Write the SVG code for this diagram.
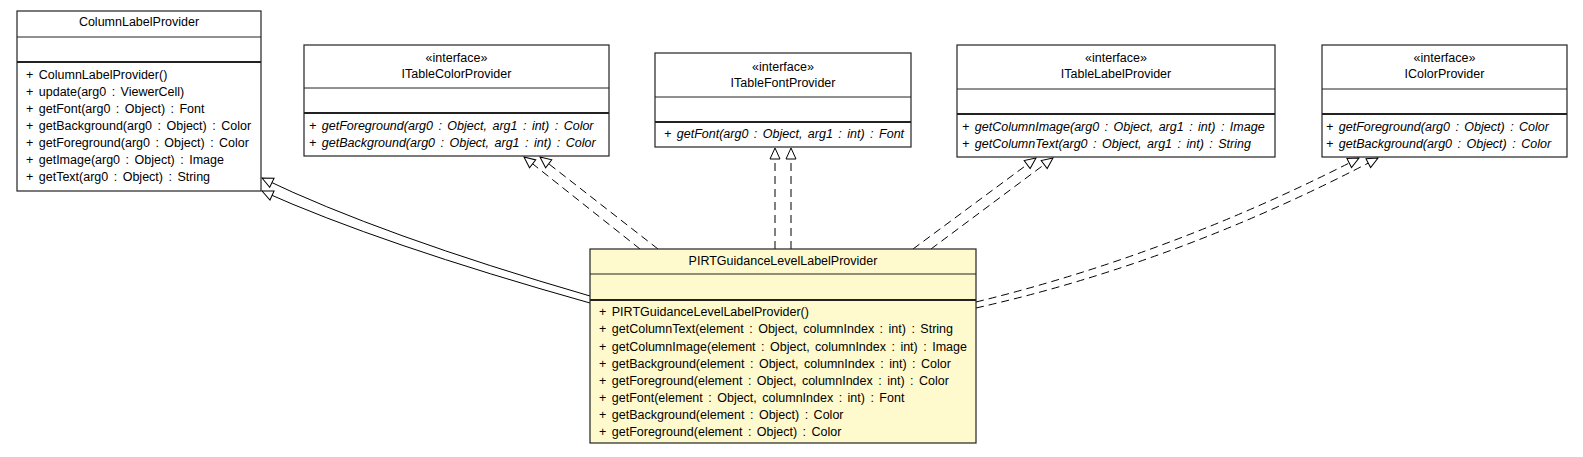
<svg xmlns="http://www.w3.org/2000/svg" width="1583" height="457" viewBox="0 0 1583 457">
<defs>
<style>
text{font-family:"Liberation Sans",Arial,sans-serif;font-size:12.5px;fill:#000}
.m{word-spacing:2px}
.c{text-anchor:middle}
.i{font-style:italic}
.box{fill:#fff;stroke:#222;stroke-width:1.2}
.hl{fill:#FFFACD}
.d1{stroke:#222;stroke-width:1}
.d2{stroke:#222;stroke-width:2}
.gen{fill:none;stroke:#000;stroke-width:1;marker-end:url(#tri)}
.real{fill:none;stroke:#000;stroke-width:1;stroke-dasharray:8,5;marker-end:url(#tri)}
</style>
<marker id="tri" viewBox="-12 -6 13 12" refX="0" refY="0" markerWidth="13" markerHeight="12" markerUnits="userSpaceOnUse" orient="auto">
<path d="M0,0 L-11,-5 L-11,5 Z" fill="#fff" stroke="#000" stroke-width="1" stroke-dasharray="none"/>
</marker>
</defs>
<rect width="1583" height="457" fill="#fff"/>

<g id="connectors">
<path class="gen" d="M590,296 Q380,235 262,178"/>
<path class="gen" d="M590,303 Q380,244 262,191"/>
<path class="real" d="M640,249 L524,157"/>
<path class="real" d="M658,249 L540,157"/>
<path class="real" d="M775,249 L775,148"/>
<path class="real" d="M791,249 L791,148"/>
<path class="real" d="M913,249 L1036,158"/>
<path class="real" d="M931,249 L1053,158"/>
<path class="real" d="M976,302 Q1172,254 1359,158"/>
<path class="real" d="M976,308 Q1180,262 1378,158"/>
</g>

<g id="ColumnLabelProvider">
<rect class="box" x="17" y="11" width="244" height="180"/>
<line class="d1" x1="17" y1="37" x2="261" y2="37"/>
<line class="d2" x1="17" y1="62" x2="261" y2="62"/>
<text class="c" x="139" y="26">ColumnLabelProvider</text>
<text class="m" x="26" y="79">+ ColumnLabelProvider()</text>
<text class="m" x="26" y="96">+ update(arg0 : ViewerCell)</text>
<text class="m" x="26" y="113">+ getFont(arg0 : Object) : Font</text>
<text class="m" x="26" y="130">+ getBackground(arg0 : Object) : Color</text>
<text class="m" x="26" y="147">+ getForeground(arg0 : Object) : Color</text>
<text class="m" x="26" y="164">+ getImage(arg0 : Object) : Image</text>
<text class="m" x="26" y="181">+ getText(arg0 : Object) : String</text>
</g>

<g id="ITableColorProvider">
<rect class="box" x="304" y="45" width="305" height="111"/>
<line class="d1" x1="304" y1="88" x2="609" y2="88"/>
<line class="d2" x1="304" y1="113" x2="609" y2="113"/>
<text class="c" x="456.5" y="62">«interface»</text>
<text class="c" x="456.5" y="78">ITableColorProvider</text>
<text class="i m" x="309" y="130">+ getForeground(arg0 : Object, arg1 : int) : Color</text>
<text class="i m" x="309" y="147">+ getBackground(arg0 : Object, arg1 : int) : Color</text>
</g>

<g id="ITableFontProvider">
<rect class="box" x="655" y="53" width="256" height="94"/>
<line class="d1" x1="655" y1="97" x2="911" y2="97"/>
<line class="d2" x1="655" y1="122" x2="911" y2="122"/>
<text class="c" x="783" y="71">«interface»</text>
<text class="c" x="783" y="87">ITableFontProvider</text>
<text class="i m" x="664" y="138">+ getFont(arg0 : Object, arg1 : int) : Font</text>
</g>

<g id="ITableLabelProvider">
<rect class="box" x="957" y="45" width="318" height="112"/>
<line class="d1" x1="957" y1="89" x2="1275" y2="89"/>
<line class="d2" x1="957" y1="114" x2="1275" y2="114"/>
<text class="c" x="1116" y="62">«interface»</text>
<text class="c" x="1116" y="78">ITableLabelProvider</text>
<text class="i m" x="962" y="131">+ getColumnImage(arg0 : Object, arg1 : int) : Image</text>
<text class="i m" x="962" y="148">+ getColumnText(arg0 : Object, arg1 : int) : String</text>
</g>

<g id="IColorProvider">
<rect class="box" x="1322" y="45" width="245" height="112"/>
<line class="d1" x1="1322" y1="89" x2="1567" y2="89"/>
<line class="d2" x1="1322" y1="114" x2="1567" y2="114"/>
<text class="c" x="1444.5" y="62">«interface»</text>
<text class="c" x="1444.5" y="78">IColorProvider</text>
<text class="i m" x="1326" y="131">+ getForeground(arg0 : Object) : Color</text>
<text class="i m" x="1326" y="148">+ getBackground(arg0 : Object) : Color</text>
</g>

<g id="PIRTGuidanceLevelLabelProvider">
<rect class="box hl" x="590" y="249" width="386" height="194"/>
<line class="d1" x1="590" y1="274" x2="976" y2="274"/>
<line class="d2" x1="590" y1="300" x2="976" y2="300"/>
<text class="c" x="783" y="265">PIRTGuidanceLevelLabelProvider</text>
<text class="m" x="599" y="316">+ PIRTGuidanceLevelLabelProvider()</text>
<text class="m" x="599" y="333">+ getColumnText(element : Object, columnIndex : int) : String</text>
<text class="m" x="599" y="350.5">+ getColumnImage(element : Object, columnIndex : int) : Image</text>
<text class="m" x="599" y="367.5">+ getBackground(element : Object, columnIndex : int) : Color</text>
<text class="m" x="599" y="385">+ getForeground(element : Object, columnIndex : int) : Color</text>
<text class="m" x="599" y="402">+ getFont(element : Object, columnIndex : int) : Font</text>
<text class="m" x="599" y="419">+ getBackground(element : Object) : Color</text>
<text class="m" x="599" y="436">+ getForeground(element : Object) : Color</text>
</g>
</svg>
